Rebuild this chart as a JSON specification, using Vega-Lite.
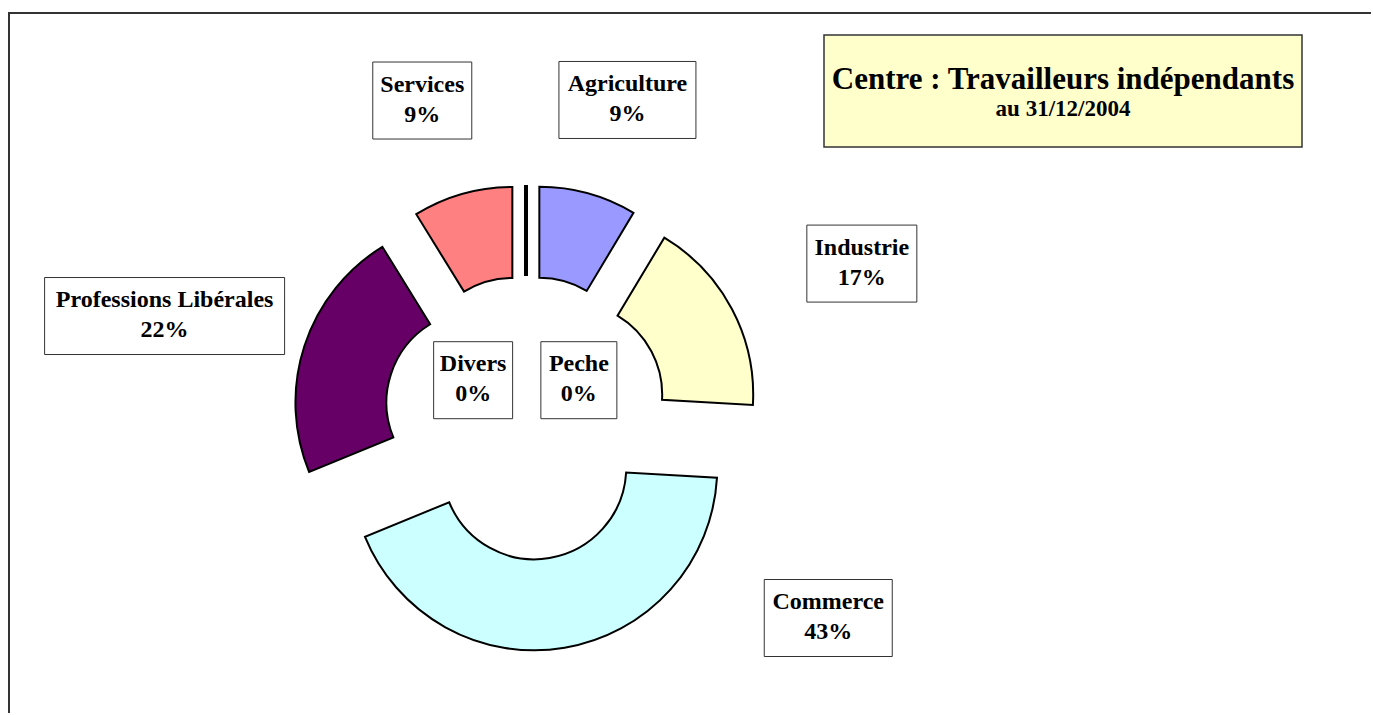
{
  "$schema": "https://vega.github.io/schema/vega-lite/v6.json",
  "autosize": {"type": "pad"},
  "padding": {"left": 8, "top": 12, "right": 0, "bottom": 0},
  "background": "white",
  "config": {"text": {"font": "Liberation Serif", "fontWeight": "bold", "color": "black"}},
  "datasets": {
    "secteurs": [
      {"categorie": "Peche", "part": 0, "ordre": 0},
      {"categorie": "Agriculture", "part": 0.086, "ordre": 1},
      {"categorie": "Industrie", "part": 0.173, "ordre": 2},
      {"categorie": "Commerce", "part": 0.429, "ordre": 3},
      {"categorie": "Professions Libérales", "part": 0.224, "ordre": 4},
      {"categorie": "Services", "part": 0.088, "ordre": 5},
      {"categorie": "Divers", "part": 0, "ordre": 6}
    ],
    "titre": [
      {"ligne": "Centre : Travailleurs indépendants", "rang": 1},
      {"ligne": "au 31/12/2004", "rang": 2}
    ]
  },
  "bounds": "flush",
  "spacing": -134,
  "vconcat": [
    {
      "bounds": "flush",
      "spacing": 0,
      "vconcat": [
        {
          "width": 10,
          "height": 22,
          "view": {"stroke": null},
          "data": {"values": [{"vide": ""}]},
          "mark": {"type": "text", "text": ""}
        },
        {
          "bounds": "flush",
          "spacing": 0,
          "hconcat": [
            {
              "width": 815,
              "height": 112,
              "view": {"stroke": null},
              "data": {"values": [{"vide": ""}]},
              "mark": {"type": "text", "text": ""}
            },
            {
              "width": 478,
              "height": 112,
              "view": {"fill": "#FFFFCC", "stroke": "#333333", "strokeWidth": 1.5},
              "data": {"name": "titre"},
              "layer": [
                {
                  "transform": [{"filter": "datum.rang == 1"}],
                  "mark": {"type": "text", "fontSize": 31, "baseline": "middle", "align": "center", "dy": -11},
                  "encoding": {"text": {"field": "ligne", "type": "nominal"}}
                },
                {
                  "transform": [{"filter": "datum.rang == 2"}],
                  "mark": {"type": "text", "fontSize": 23, "baseline": "middle", "align": "center", "dy": 18},
                  "encoding": {"text": {"field": "ligne", "type": "nominal"}}
                }
              ]
            }
          ]
        }
      ]
    },
    {
      "width": 1362,
      "height": 700,
      "view": {"stroke": "#333333", "strokeWidth": 2, "strokeDash": [1362, 2062, 702]},
      "data": {"name": "secteurs"},
      "transform": [
        {"stack": "part", "groupby": [], "sort": [{"field": "ordre", "order": "ascending"}], "as": ["deb", "fin"]}
      ],
      "layer": [
        {
          "mark": {
            "type": "arc",
            "innerRadius": 92,
            "outerRadius": 183,
            "stroke": "black",
            "x": {"expr": "517 + 50*sin(PI*(datum.deb+datum.fin))"},
            "y": {"expr": "405 - 50*cos(PI*(datum.deb+datum.fin))"}
          },
          "encoding": {
            "theta": {"field": "deb", "type": "quantitative", "scale": {"domain": [0, 1]}, "stack": null},
            "theta2": {"field": "fin"},
            "strokeWidth": {"condition": {"test": "datum.part == 0", "value": 4}, "value": 2},
            "color": {
              "field": "categorie",
              "type": "nominal",
              "scale": {
                "domain": ["Peche", "Agriculture", "Industrie", "Commerce", "Professions Libérales", "Services", "Divers"],
                "range": ["#993366", "#9999FF", "#FFFFCC", "#CCFFFF", "#660066", "#FF8080", "#CCCCFF"]
              },
              "legend": null
            }
          }
        },
        {
          "mark": {
            "type": "point",
            "filled": true,
            "fill": "white",
            "fillOpacity": 1,
            "opacity": 1,
            "stroke": "#333333",
            "strokeWidth": 1,
            "size": 40000,
            "x": {"expr": "517 + (datum.part == 0 ? 65*sin(datum.deb < 0.5 ? 0.95 : -0.95) : (sin(PI*(datum.deb+datum.fin)) >= 0 ? 380 : -380) * sqrt(1 - pow(min(-cos(PI*(datum.deb+datum.fin)), 200/330), 2)))"},
            "y": {"expr": "405 + (datum.part == 0 ? -65*cos(0.95) : 330*min(-cos(PI*(datum.deb+datum.fin)), 200/330))"}
          },
          "encoding": {
            "shape": {
              "field": "categorie",
              "type": "nominal",
              "scale": {
                "domain": ["Peche", "Agriculture", "Industrie", "Commerce", "Professions Libérales", "Services", "Divers"],
                "range": [
                  "M-0.38,-0.385L0.38,-0.385L0.38,0.385L-0.38,0.385Z",
                  "M-0.685,-0.385L0.685,-0.385L0.685,0.385L-0.685,0.385Z",
                  "M-0.55,-0.385L0.55,-0.385L0.55,0.385L-0.55,0.385Z",
                  "M-0.64,-0.385L0.64,-0.385L0.64,0.385L-0.64,0.385Z",
                  "M-1.2,-0.385L1.2,-0.385L1.2,0.385L-1.2,0.385Z",
                  "M-0.495,-0.385L0.495,-0.385L0.495,0.385L-0.495,0.385Z",
                  "M-0.395,-0.385L0.395,-0.385L0.395,0.385L-0.395,0.385Z"
                ]
              },
              "legend": null
            }
          }
        },
        {
          "mark": {
            "type": "text",
            "fontSize": 24,
            "baseline": "middle",
            "align": "center",
            "dy": -16,
            "x": {"expr": "517 + (datum.part == 0 ? 65*sin(datum.deb < 0.5 ? 0.95 : -0.95) : (sin(PI*(datum.deb+datum.fin)) >= 0 ? 380 : -380) * sqrt(1 - pow(min(-cos(PI*(datum.deb+datum.fin)), 200/330), 2)))"},
            "y": {"expr": "405 + (datum.part == 0 ? -65*cos(0.95) : 330*min(-cos(PI*(datum.deb+datum.fin)), 200/330))"}
          },
          "encoding": {"text": {"field": "categorie", "type": "nominal"}}
        },
        {
          "mark": {
            "type": "text",
            "fontSize": 24,
            "baseline": "middle",
            "align": "center",
            "dy": 14,
            "x": {"expr": "517 + (datum.part == 0 ? 65*sin(datum.deb < 0.5 ? 0.95 : -0.95) : (sin(PI*(datum.deb+datum.fin)) >= 0 ? 380 : -380) * sqrt(1 - pow(min(-cos(PI*(datum.deb+datum.fin)), 200/330), 2)))"},
            "y": {"expr": "405 + (datum.part == 0 ? -65*cos(0.95) : 330*min(-cos(PI*(datum.deb+datum.fin)), 200/330))"}
          },
          "encoding": {"text": {"field": "part", "type": "quantitative", "format": ".0%"}}
        }
      ]
    }
  ]
}
